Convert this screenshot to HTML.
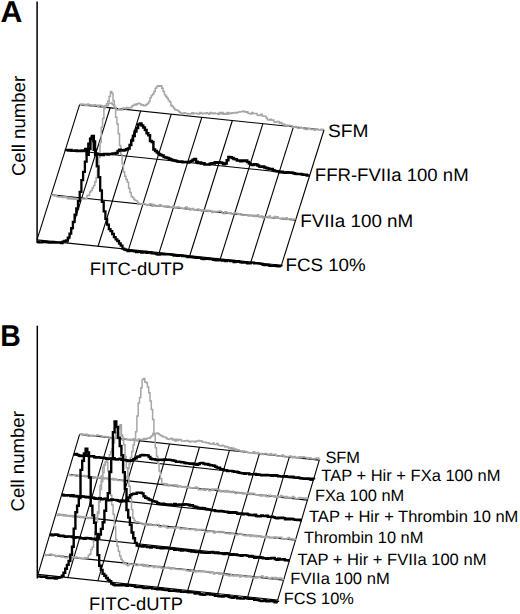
<!DOCTYPE html>
<html><head><meta charset="utf-8"><style>
html,body{margin:0;padding:0;background:#fff;}
body{width:520px;height:614px;overflow:hidden;font-family:"Liberation Sans",sans-serif;}
svg{display:block;}
</style></head><body>
<svg width="520" height="614" viewBox="0 0 520 614">
<rect width="520" height="614" fill="#fff"/>
<g stroke="#000" stroke-width="1.1" fill="none"><line x1="79.60" y1="104.60" x2="37.00" y2="239.90"/><line x1="110.15" y1="107.77" x2="67.55" y2="243.08"/><line x1="140.70" y1="110.95" x2="98.10" y2="246.25"/><line x1="171.25" y1="114.12" x2="128.65" y2="249.43"/><line x1="201.80" y1="117.30" x2="159.20" y2="252.60"/><line x1="232.35" y1="120.47" x2="189.75" y2="255.78"/><line x1="262.90" y1="123.65" x2="220.30" y2="258.95"/><line x1="293.45" y1="126.83" x2="250.85" y2="262.12"/><line x1="324.00" y1="130.00" x2="281.40" y2="265.30"/><line x1="79.60" y1="104.60" x2="324.00" y2="130.00"/><line x1="65.40" y1="149.70" x2="309.80" y2="175.10"/><line x1="51.20" y1="194.80" x2="295.60" y2="220.20"/><line x1="37.00" y1="239.90" x2="281.40" y2="265.30"/></g><g stroke="#000" stroke-width="1.1" fill="none"><line x1="79.60" y1="434.40" x2="37.95" y2="574.40"/><line x1="109.56" y1="437.61" x2="67.91" y2="577.61"/><line x1="139.53" y1="440.82" x2="97.88" y2="580.83"/><line x1="169.49" y1="444.04" x2="127.84" y2="584.04"/><line x1="199.45" y1="447.25" x2="157.80" y2="587.25"/><line x1="229.41" y1="450.46" x2="187.76" y2="590.46"/><line x1="259.38" y1="453.68" x2="217.73" y2="593.67"/><line x1="289.34" y1="456.89" x2="247.69" y2="596.89"/><line x1="319.30" y1="460.10" x2="277.65" y2="600.10"/><line x1="79.60" y1="434.40" x2="319.30" y2="460.10"/><line x1="73.65" y1="454.40" x2="313.35" y2="480.10"/><line x1="67.70" y1="474.40" x2="307.40" y2="500.10"/><line x1="61.75" y1="494.40" x2="301.45" y2="520.10"/><line x1="55.80" y1="514.40" x2="295.50" y2="540.10"/><line x1="49.85" y1="534.40" x2="289.55" y2="560.10"/><line x1="43.90" y1="554.40" x2="283.60" y2="580.10"/><line x1="37.95" y1="574.40" x2="277.65" y2="600.10"/></g><line x1="37.1" y1="1.6" x2="37.1" y2="243" stroke="#000" stroke-width="1.5"/><line x1="37.3" y1="325.7" x2="37.3" y2="578.5" stroke="#000" stroke-width="1.5"/><g font-family="Liberation Sans, sans-serif" fill="#000" style="text-rendering:geometricPrecision"><text x="0.5" y="22.2" font-size="30.3" font-weight="bold">A</text><text transform="translate(0.2,346.4) scale(0.94,1)" font-size="30.3" font-weight="bold">B</text><text transform="translate(25.35,176.1) rotate(-90)" font-size="18.6">Cell number</text><text transform="translate(24.3,511.4) rotate(-90)" font-size="18.6">Cell number</text><text transform="translate(89.8,275.4) scale(1.025,1)" font-size="18">FITC-dUTP</text><text transform="translate(89.1,610) scale(1.02,1)" font-size="18">FITC-dUTP</text><text transform="translate(327.9,136.7) scale(1.065,1)" font-size="18">SFM</text><text transform="translate(314.8,181.1) scale(1.032,1)" font-size="18">FFR-FVIIa 100 nM</text><text transform="translate(300.3,227.1) scale(1.045,1)" font-size="18">FVIIa 100 nM</text><text transform="translate(285.5,271.1) scale(1.04,1)" font-size="18">FCS 10%</text><text transform="translate(325.4,463) scale(1.0,1)" font-size="16.4">SFM</text><text transform="translate(321.3,481.2) scale(1.007,1)" font-size="16.4">TAP + Hir + FXa 100 nM</text><text transform="translate(314.9,500.6) scale(1.0,1)" font-size="16.4">FXa 100 nM</text><text transform="translate(309,521.6) scale(1.008,1)" font-size="16.4">TAP + Hir + Thrombin 10 nM</text><text transform="translate(304,543.2) scale(1.0,1)" font-size="16.4">Thrombin 10 nM</text><text transform="translate(297.5,564.8) scale(1.01,1)" font-size="16.4">TAP + Hir + FVIIa 100 nM</text><text transform="translate(290.3,584.4) scale(1.01,1)" font-size="16.4">FVIIa 100 nM</text><text transform="translate(283.7,604.4) scale(1.0,1)" font-size="16.4">FCS 10%</text></g><path d="M79.6,104.2 H80.9 V104.0 H82.2 V104.3 H83.5 V104.2 H84.8 V105.6 H86.1 V105.4 H87.4 V104.1 H88.7 V104.9 H90.0 V104.8 H91.3 V105.3 H92.6 V106.1 H93.9 V104.8 H95.3 V105.7 H96.6 V105.2 H97.9 V106.5 H99.2 V105.2 H100.5 V105.6 H101.8 V107.1 H103.1 V106.1 H104.4 V107.5 H105.7 V106.1 H107.0 V105.6 H108.3 V103.4 H109.6 V103.3 H110.9 V103.1 H112.2 V104.5 H113.5 V105.2 H114.8 V107.5 H116.1 V109.8 H117.4 V110.1 H118.7 V108.8 H120.0 V110.1 H121.3 V110.0 H122.6 V108.3 H123.9 V108.1 H125.3 V108.8 H126.6 V107.5 H127.9 V107.9 H129.2 V107.8 H130.5 V107.5 H131.8 V105.9 H133.1 V105.2 H134.4 V104.3 H135.7 V105.0 H137.0 V103.8 H138.3 V103.3 H139.6 V103.8 H140.9 V105.1 H142.2 V104.8 H143.5 V105.8 H144.8 V105.4 H146.1 V104.5 H147.4 V103.4 H148.7 V101.5 H150.0 V97.7 H151.3 V95.6 H152.6 V94.0 H153.9 V91.5 H155.2 V88.2 H156.6 V86.5 H157.9 V85.8 H159.2 V86.2 H160.5 V85.8 H161.8 V88.3 H163.1 V91.4 H164.4 V94.7 H165.7 V96.5 H167.0 V98.3 H168.3 V100.6 H169.6 V102.0 H170.9 V105.4 H172.2 V106.5 H173.5 V108.2 H174.8 V109.8 H176.1 V110.0 H177.4 V110.6 H178.7 V111.7 H180.0 V112.8 H181.3 V114.5 H182.6 V113.4 H183.9 V112.7 H185.2 V113.6 H186.6 V113.5 H187.9 V114.1 H189.2 V114.1 H190.5 V113.7 H191.8 V112.8 H193.1 V113.8 H194.4 V113.2 H195.7 V113.2 H197.0 V113.8 H198.3 V113.9 H199.6 V112.4 H200.9 V113.3 H202.2 V113.8 H203.5 V113.2 H204.8 V113.5 H206.1 V112.8 H207.4 V113.5 H208.7 V114.2 H210.0 V112.4 H211.3 V113.0 H212.6 V113.8 H213.9 V113.0 H215.2 V113.5 H216.6 V113.4 H217.9 V114.4 H219.2 V112.4 H220.5 V113.8 H221.8 V112.5 H223.1 V114.2 H224.4 V113.5 H225.7 V114.3 H227.0 V112.6 H228.3 V113.9 H229.6 V112.9 H230.9 V113.5 H232.2 V112.7 H233.5 V113.0 H234.8 V112.5 H236.1 V113.1 H237.4 V112.2 H238.7 V112.0 H240.0 V111.8 H241.3 V111.8 H242.6 V111.0 H243.9 V111.5 H245.2 V112.3 H246.6 V111.7 H247.9 V113.2 H249.2 V113.5 H250.5 V113.9 H251.8 V112.6 H253.1 V113.4 H254.4 V113.4 H255.7 V113.4 H257.0 V114.9 H258.3 V115.5 H259.6 V114.9 H260.9 V114.3 H262.2 V116.0 H263.5 V116.3 H264.8 V116.2 H266.1 V118.0 H267.4 V119.7 H268.7 V120.0 H270.0 V119.2 H271.3 V120.3 H272.6 V120.0 H273.9 V122.0 H275.2 V122.3 H276.6 V121.4 H277.9 V121.5 H279.2 V123.3 H280.5 V122.6 H281.8 V124.1 H283.1 V124.0 H284.4 V125.6 H285.7 V125.1 H287.0 V126.3 H288.3 V125.3 H289.6 V125.8 H290.9 V125.7 H292.2 V127.2 H293.5 V127.0 H294.8 V126.6 H296.1 V126.9 H297.4 V128.3 H298.7 V128.3 H300.0 V127.3 H301.3 V127.8 H302.6 V128.1 H303.9 V128.9 H305.2 V129.3 H306.5 V129.4 H307.9 V128.2 H309.2 V128.5 H310.5 V129.6 H311.8 V129.2 H313.1 V129.6 H314.4 V130.2 H315.7 V129.1 H317.0 V129.2 H318.3 V130.1 H319.6 V129.7 H320.9 V129.3 H322.2 V129.5 H323.5 V130.0" fill="none" stroke="#a6a6a6" stroke-width="1.5" stroke-linejoin="miter" stroke-miterlimit="2" /><path d="M50.6,195.2 H51.9 V195.6 H53.2 V195.4 H54.5 V196.0 H55.8 V195.6 H57.1 V196.8 H58.4 V196.9 H59.7 V196.8 H61.0 V196.9 H62.3 V197.5 H63.6 V196.8 H64.9 V197.5 H66.2 V197.0 H67.5 V198.7 H68.8 V197.5 H70.1 V198.9 H71.4 V198.7 H72.7 V199.1 H74.0 V199.2 H75.3 V198.5 H76.6 V199.5 H77.9 V198.7 H79.2 V199.7 H80.5 V199.0 H81.8 V199.1 H83.1 V199.0 H84.4 V198.9 H85.7 V198.8 H87.0 V195.4 H88.3 V195.2 H89.6 V192.1 H90.9 V190.5 H92.2 V187.9 H93.5 V185.4 H94.8 V181.7 H96.1 V177.8 H97.4 V169.2 H98.7 V157.2 H100.0 V142.4 H101.3 V127.3 H102.6 V118.6 H103.9 V108.5 H105.2 V105.5 H106.5 V103.7 H107.8 V101.2 H109.1 V96.5 H110.4 V91.6 H111.7 V93.2 H113.0 V100.7 H114.3 V107.7 H115.6 V117.2 H116.9 V123.9 H118.2 V133.7 H119.5 V145.6 H120.8 V154.4 H122.1 V163.8 H123.4 V172.1 H124.7 V176.3 H126.0 V179.6 H127.3 V182.2 H128.6 V188.3 H129.9 V192.5 H131.2 V196.5 H132.5 V197.5 H133.8 V199.6 H135.1 V200.4 H136.4 V201.0 H137.7 V203.0 H139.0 V203.9 H140.3 V203.8 H141.6 V204.2 H142.9 V203.5 H144.2 V203.9 H145.5 V204.4 H146.8 V204.8 H148.1 V205.2 H149.4 V203.8 H150.7 V204.2 H152.0 V206.2 H153.3 V204.5 H154.6 V206.1 H155.9 V206.2 H157.2 V205.5 H158.5 V205.9 H159.8 V204.8 H161.1 V206.3 H162.4 V206.2 H163.7 V206.7 H165.0 V205.9 H166.3 V206.5 H167.6 V206.0 H168.9 V207.0 H170.2 V207.5 H171.5 V207.5 H172.8 V206.2 H174.1 V207.3 H175.4 V208.0 H176.7 V207.0 H178.0 V207.1 H179.3 V207.8 H180.6 V208.1 H181.9 V208.6 H183.2 V208.5 H184.5 V207.8 H185.8 V207.1 H187.1 V208.9 H188.4 V208.2 H189.7 V209.9 H191.0 V209.3 H192.3 V208.5 H193.6 V209.8 H194.9 V209.9 H196.2 V209.4 H197.5 V209.0 H198.8 V210.4 H200.1 V209.8 H201.4 V211.2 H202.7 V210.0 H204.0 V210.4 H205.3 V210.2 H206.6 V210.2 H207.9 V211.5 H209.2 V210.5 H210.5 V211.0 H211.8 V212.6 H213.1 V211.2 H214.4 V212.1 H215.7 V211.6 H217.0 V211.8 H218.3 V211.2 H219.6 V211.0 H220.9 V211.8 H222.2 V213.3 H223.5 V213.7 H224.8 V211.8 H226.1 V212.3 H227.4 V213.0 H228.7 V213.4 H230.0 V212.8 H231.3 V214.0 H232.6 V214.1 H233.9 V212.8 H235.2 V213.1 H236.5 V213.2 H237.8 V214.6 H239.1 V214.1 H240.4 V213.8 H241.7 V215.3 H243.0 V215.0 H244.3 V215.1 H245.6 V215.3 H246.9 V215.0 H248.2 V216.1 H249.5 V215.3 H250.8 V214.9 H252.1 V216.0 H253.4 V215.2 H254.7 V216.6 H256.0 V215.9 H257.3 V214.8 H258.6 V216.8 H259.9 V216.9 H261.2 V216.0 H262.5 V217.9 H263.8 V217.1 H265.1 V217.0 H266.4 V216.8 H267.7 V217.7 H269.0 V216.1 H270.3 V217.5 H271.6 V217.6 H272.9 V217.5 H274.2 V216.4 H275.5 V218.2 H276.8 V216.8 H278.1 V218.2 H279.4 V218.5 H280.7 V218.3 H282.0 V217.9 H283.3 V218.5 H284.6 V219.0 H285.9 V217.8 H287.2 V219.5 H288.5 V219.1 H289.8 V218.8 H291.1 V220.3 H292.4 V219.1 H293.7 V219.3 H295.0 V219.8" fill="none" stroke="#a6a6a6" stroke-width="1.5" stroke-linejoin="miter" stroke-miterlimit="2" /><path d="M64.8,150.0 H66.5 V150.0 H68.2 V150.4 H69.9 V150.0 H71.6 V150.7 H73.3 V150.7 H75.0 V150.5 H76.7 V151.1 H78.4 V150.7 H80.1 V150.9 H81.8 V150.5 H83.5 V150.5 H85.3 V149.1 H87.0 V154.7 H88.7 V149.1 H90.4 V138.5 H92.1 V136.1 H93.8 V149.7 H95.5 V153.7 H97.2 V154.6 H98.9 V154.6 H100.6 V155.0 H102.3 V155.0 H104.0 V154.0 H105.7 V153.9 H107.4 V154.5 H109.1 V154.1 H110.8 V153.9 H112.5 V153.5 H114.2 V153.5 H115.9 V153.0 H117.6 V150.9 H119.3 V149.8 H121.0 V150.3 H122.7 V150.5 H124.4 V149.9 H126.2 V149.2 H127.9 V148.4 H129.6 V145.0 H131.3 V140.6 H133.0 V136.1 H134.7 V131.6 H136.4 V127.9 H138.1 V124.4 H139.8 V123.5 H141.5 V125.6 H143.2 V127.5 H144.9 V129.9 H146.6 V133.2 H148.3 V135.3 H150.0 V140.9 H151.7 V142.0 H153.4 V149.4 H155.1 V150.9 H156.8 V152.6 H158.5 V154.0 H160.2 V155.1 H161.9 V155.6 H163.6 V156.9 H165.3 V157.4 H167.1 V158.0 H168.8 V158.8 H170.5 V159.5 H172.2 V160.3 H173.9 V160.5 H175.6 V161.0 H177.3 V161.4 H179.0 V161.7 H180.7 V161.6 H182.4 V162.3 H184.1 V161.9 H185.8 V162.0 H187.5 V162.6 H189.2 V161.8 H190.9 V160.9 H192.6 V159.7 H194.3 V159.1 H196.0 V161.8 H197.7 V162.9 H199.4 V162.6 H201.1 V163.4 H202.8 V163.3 H204.5 V164.4 H206.3 V164.5 H208.0 V164.6 H209.7 V163.8 H211.4 V163.2 H213.1 V163.5 H214.8 V162.2 H216.5 V162.7 H218.2 V162.2 H219.9 V162.4 H221.6 V162.9 H223.3 V164.2 H225.0 V163.5 H226.7 V160.3 H228.4 V156.9 H230.1 V157.3 H231.8 V157.9 H233.5 V159.0 H235.2 V159.2 H236.9 V160.5 H238.6 V160.4 H240.3 V161.2 H242.0 V160.6 H243.7 V160.9 H245.4 V160.4 H247.2 V162.1 H248.9 V163.5 H250.6 V164.4 H252.3 V165.1 H254.0 V164.3 H255.7 V164.5 H257.4 V165.5 H259.1 V166.4 H260.8 V166.8 H262.5 V166.6 H264.2 V167.4 H265.9 V168.1 H267.6 V168.4 H269.3 V169.1 H271.0 V169.1 H272.7 V170.2 H274.4 V171.0 H276.1 V171.3 H277.8 V171.4 H279.5 V172.2 H281.2 V171.8 H282.9 V172.5 H284.6 V172.7 H286.4 V172.2 H288.1 V172.6 H289.8 V172.6 H291.5 V172.7 H293.2 V173.2 H294.9 V173.8 H296.6 V174.1 H298.3 V174.1 H300.0 V174.1 H301.7 V174.6 H303.4 V174.8 H305.1 V174.7 H306.8 V175.5 H308.5 V175.4" fill="none" stroke="#000" stroke-width="2.5" stroke-linejoin="miter" stroke-miterlimit="2" /><path d="M37.0,242.0 H38.7 V242.3 H40.4 V242.4 H42.1 V241.7 H43.8 V242.2 H45.5 V241.8 H47.3 V242.3 H49.0 V242.6 H50.7 V242.6 H52.4 V242.0 H54.1 V242.5 H55.8 V242.7 H57.5 V242.6 H59.2 V242.5 H60.9 V243.0 H62.6 V241.6 H64.3 V241.0 H66.1 V240.3 H67.8 V237.6 H69.5 V233.7 H71.2 V228.1 H72.9 V221.9 H74.6 V214.6 H76.3 V208.5 H78.0 V201.2 H79.7 V191.9 H81.4 V180.1 H83.1 V171.9 H84.9 V161.6 H86.6 V150.8 H88.3 V143.6 H90.0 V139.2 H91.7 V136.7 H93.4 V141.4 H95.1 V155.2 H96.8 V166.3 H98.5 V177.2 H100.2 V190.5 H101.9 V201.9 H103.7 V211.4 H105.4 V218.8 H107.1 V224.6 H108.8 V229.1 H110.5 V231.1 H112.2 V234.0 H113.9 V237.2 H115.6 V239.4 H117.3 V241.0 H119.0 V243.5 H120.7 V245.6 H122.5 V248.6 H124.2 V249.6 H125.9 V250.2 H127.6 V251.1 H129.3 V250.8 H131.0 V250.9 H132.7 V251.2 H134.4 V251.3 H136.1 V252.0 H137.8 V251.8 H139.5 V251.8 H141.3 V252.6 H143.0 V252.4 H144.7 V251.9 H146.4 V252.8 H148.1 V252.7 H149.8 V252.4 H151.5 V253.4 H153.2 V253.4 H154.9 V253.6 H156.6 V254.3 H158.3 V254.5 H160.1 V254.0 H161.8 V254.2 H163.5 V254.4 H165.2 V254.4 H166.9 V254.3 H168.6 V254.4 H170.3 V254.6 H172.0 V254.8 H173.7 V255.5 H175.4 V255.2 H177.1 V255.8 H178.9 V255.5 H180.6 V255.3 H182.3 V256.1 H184.0 V256.0 H185.7 V256.3 H187.4 V257.2 H189.1 V257.0 H190.8 V256.9 H192.5 V257.3 H194.2 V257.6 H196.0 V257.9 H197.7 V257.9 H199.4 V257.9 H201.1 V258.7 H202.8 V259.0 H204.5 V258.3 H206.2 V258.9 H207.9 V258.6 H209.6 V259.2 H211.3 V259.2 H213.0 V259.8 H214.8 V260.0 H216.5 V260.3 H218.2 V259.9 H219.9 V260.2 H221.6 V260.7 H223.3 V260.2 H225.0 V261.1 H226.7 V260.6 H228.4 V260.7 H230.1 V261.1 H231.8 V261.0 H233.6 V262.0 H235.3 V261.5 H237.0 V261.2 H238.7 V261.9 H240.4 V262.4 H242.1 V262.6 H243.8 V262.7 H245.5 V262.6 H247.2 V263.3 H248.9 V263.3 H250.6 V262.6 H252.4 V262.7 H254.1 V263.3 H255.8 V263.2 H257.5 V263.3 H259.2 V263.7 H260.9 V263.8 H262.6 V264.8 H264.3 V265.0 H266.0 V264.9 H267.7 V265.0 H269.4 V265.9 H271.2 V265.8 H272.9 V265.8 H274.6 V265.2 H276.3 V266.2 H278.0 V266.4 H279.7 V265.8 H281.4 V266.6" fill="none" stroke="#000" stroke-width="2.3" stroke-linejoin="miter" stroke-miterlimit="2" /><path d="M79.6,434.2 H80.9 V433.7 H82.2 V434.5 H83.5 V434.2 H84.8 V434.8 H86.1 V434.3 H87.4 V435.9 H88.7 V436.2 H90.1 V435.2 H91.4 V435.2 H92.7 V435.6 H94.0 V436.1 H95.3 V435.7 H96.6 V435.1 H97.9 V435.4 H99.2 V435.7 H100.5 V435.7 H101.8 V436.4 H103.1 V436.5 H104.4 V436.4 H105.7 V437.0 H107.0 V436.9 H108.3 V436.9 H109.7 V438.3 H111.0 V438.4 H112.3 V437.4 H113.6 V438.0 H114.9 V437.5 H116.2 V438.5 H117.5 V438.6 H118.8 V428.1 H120.1 V424.8 H121.4 V436.3 H122.7 V438.2 H124.0 V439.0 H125.3 V438.8 H126.6 V439.8 H127.9 V439.4 H129.2 V439.3 H130.6 V439.6 H131.9 V440.2 H133.2 V438.7 H134.5 V440.0 H135.8 V440.1 H137.1 V440.5 H138.4 V438.9 H139.7 V439.6 H141.0 V439.5 H142.3 V439.7 H143.6 V438.5 H144.9 V439.3 H146.2 V438.7 H147.5 V437.9 H148.8 V438.2 H150.2 V437.0 H151.5 V435.7 H152.8 V433.5 H154.1 V433.6 H155.4 V433.4 H156.7 V433.0 H158.0 V433.7 H159.3 V434.7 H160.6 V435.5 H161.9 V436.3 H163.2 V437.0 H164.5 V436.9 H165.8 V438.1 H167.1 V438.9 H168.4 V439.2 H169.8 V438.8 H171.1 V438.2 H172.4 V440.1 H173.7 V439.3 H175.0 V440.9 H176.3 V439.2 H177.6 V440.4 H178.9 V439.5 H180.2 V439.8 H181.5 V440.9 H182.8 V440.9 H184.1 V441.3 H185.4 V440.8 H186.7 V440.4 H188.0 V441.3 H189.3 V441.9 H190.7 V441.3 H192.0 V441.5 H193.3 V441.3 H194.6 V441.9 H195.9 V441.2 H197.2 V440.7 H198.5 V440.4 H199.8 V441.2 H201.1 V440.9 H202.4 V442.3 H203.7 V442.3 H205.0 V442.2 H206.3 V443.0 H207.6 V442.7 H208.9 V443.6 H210.3 V444.0 H211.6 V444.1 H212.9 V442.9 H214.2 V444.4 H215.5 V444.4 H216.8 V443.5 H218.1 V445.3 H219.4 V445.8 H220.7 V445.9 H222.0 V445.3 H223.3 V445.7 H224.6 V447.1 H225.9 V446.4 H227.2 V446.9 H228.5 V448.4 H229.9 V447.8 H231.2 V449.5 H232.5 V448.1 H233.8 V449.2 H235.1 V448.9 H236.4 V450.6 H237.7 V449.7 H239.0 V450.8 H240.3 V451.1 H241.6 V451.6 H242.9 V450.7 H244.2 V451.7 H245.5 V451.5 H246.8 V452.2 H248.1 V452.9 H249.5 V452.8 H250.8 V452.8 H252.1 V453.1 H253.4 V451.8 H254.7 V453.6 H256.0 V453.5 H257.3 V452.6 H258.6 V453.6 H259.9 V453.6 H261.2 V454.3 H262.5 V454.6 H263.8 V453.7 H265.1 V453.6 H266.4 V454.0 H267.7 V455.0 H269.0 V454.3 H270.4 V453.5 H271.7 V454.9 H273.0 V454.8 H274.3 V454.2 H275.6 V455.3 H276.9 V456.1 H278.2 V456.0 H279.5 V456.2 H280.8 V455.8 H282.1 V455.1 H283.4 V456.5 H284.7 V456.9 H286.0 V457.0 H287.3 V456.5 H288.6 V456.6 H290.0 V456.0 H291.3 V457.5 H292.6 V457.7 H293.9 V456.6 H295.2 V457.2 H296.5 V457.5 H297.8 V457.9 H299.1 V456.7 H300.4 V457.7 H301.7 V457.0 H303.0 V456.8 H304.3 V457.4 H305.6 V457.6 H306.9 V458.7 H308.2 V457.9 H309.6 V457.7 H310.9 V458.7 H312.2 V458.7 H313.5 V459.1 H314.8 V458.5 H316.1 V458.1 H317.4 V458.0 H318.7 V459.3 H320.0 V459.2" fill="none" stroke="#a6a6a6" stroke-width="1.5" stroke-linejoin="miter" stroke-miterlimit="2" /><path d="M67.7,474.4 H69.0 V474.8 H70.3 V475.6 H71.6 V475.4 H72.9 V475.6 H74.2 V474.9 H75.5 V476.3 H76.8 V476.3 H78.1 V475.3 H79.5 V475.7 H80.8 V475.4 H82.1 V475.9 H83.4 V475.4 H84.7 V476.8 H86.0 V475.7 H87.3 V476.0 H88.6 V476.2 H89.9 V477.2 H91.2 V477.3 H92.5 V478.2 H93.8 V476.8 H95.1 V478.0 H96.4 V477.8 H97.7 V477.3 H99.0 V477.7 H100.4 V477.4 H101.7 V478.0 H103.0 V479.1 H104.3 V478.4 H105.6 V478.1 H106.9 V478.6 H108.2 V479.4 H109.5 V478.8 H110.8 V479.5 H112.1 V478.4 H113.4 V479.9 H114.7 V479.0 H116.0 V479.3 H117.3 V480.1 H118.6 V480.4 H119.9 V480.6 H121.2 V480.0 H122.6 V480.9 H123.9 V480.9 H125.2 V479.3 H126.5 V476.5 H127.8 V468.6 H129.1 V464.0 H130.4 V457.6 H131.7 V451.6 H133.0 V445.1 H134.3 V440.8 H135.6 V431.7 H136.9 V415.9 H138.2 V402.9 H139.5 V397.4 H140.8 V388.1 H142.1 V379.6 H143.5 V378.4 H144.8 V382.1 H146.1 V382.8 H147.4 V387.0 H148.7 V392.7 H150.0 V401.1 H151.3 V409.4 H152.6 V419.4 H153.9 V434.8 H155.2 V447.7 H156.5 V456.3 H157.8 V463.6 H159.1 V471.1 H160.4 V478.7 H161.7 V483.4 H163.0 V483.5 H164.3 V485.4 H165.7 V483.8 H167.0 V484.6 H168.3 V486.1 H169.6 V484.9 H170.9 V485.1 H172.2 V485.1 H173.5 V484.7 H174.8 V485.7 H176.1 V485.1 H177.4 V486.9 H178.7 V486.5 H180.0 V485.9 H181.3 V486.8 H182.6 V487.2 H183.9 V486.5 H185.2 V487.5 H186.6 V487.5 H187.9 V487.1 H189.2 V488.1 H190.5 V487.8 H191.8 V487.7 H193.1 V487.7 H194.4 V488.0 H195.7 V486.9 H197.0 V487.9 H198.3 V489.8 H199.6 V489.3 H200.9 V489.7 H202.2 V488.9 H203.5 V490.0 H204.8 V490.3 H206.1 V488.9 H207.4 V489.0 H208.8 V490.8 H210.1 V490.4 H211.4 V489.1 H212.7 V489.9 H214.0 V488.9 H215.3 V489.1 H216.6 V489.7 H217.9 V489.5 H219.2 V490.5 H220.5 V491.8 H221.8 V490.7 H223.1 V490.7 H224.4 V492.0 H225.7 V490.4 H227.0 V492.0 H228.3 V491.1 H229.6 V491.9 H231.0 V492.6 H232.3 V491.2 H233.6 V492.0 H234.9 V493.5 H236.2 V493.2 H237.5 V492.3 H238.8 V492.9 H240.1 V493.3 H241.4 V492.9 H242.7 V493.9 H244.0 V493.3 H245.3 V493.8 H246.6 V493.4 H247.9 V493.2 H249.2 V492.9 H250.5 V494.4 H251.9 V493.2 H253.2 V493.4 H254.5 V494.4 H255.8 V494.8 H257.1 V494.8 H258.4 V495.1 H259.7 V495.7 H261.0 V496.1 H262.3 V495.0 H263.6 V495.8 H264.9 V494.9 H266.2 V496.4 H267.5 V496.7 H268.8 V495.3 H270.1 V495.4 H271.4 V496.0 H272.7 V496.4 H274.1 V495.7 H275.4 V497.2 H276.7 V496.5 H278.0 V497.3 H279.3 V497.0 H280.6 V495.5 H281.9 V496.6 H283.2 V496.5 H284.5 V497.4 H285.8 V496.6 H287.1 V497.9 H288.4 V497.3 H289.7 V498.1 H291.0 V497.7 H292.3 V496.5 H293.6 V497.4 H295.0 V498.7 H296.3 V498.5 H297.6 V498.7 H298.9 V497.5 H300.2 V497.8 H301.5 V497.7 H302.8 V498.3 H304.1 V498.5 H305.4 V498.0 H306.7 V498.6 H308.0 V499.2" fill="none" stroke="#a6a6a6" stroke-width="1.5" stroke-linejoin="miter" stroke-miterlimit="2" /><path d="M55.8,514.4 H57.1 V515.5 H58.4 V514.1 H59.7 V515.3 H61.0 V514.6 H62.3 V515.4 H63.6 V516.0 H64.9 V514.7 H66.2 V516.1 H67.5 V515.5 H68.9 V515.4 H70.2 V516.6 H71.5 V515.5 H72.8 V517.0 H74.1 V516.8 H75.4 V516.0 H76.7 V516.0 H78.0 V516.4 H79.3 V516.2 H80.6 V517.5 H81.9 V516.7 H83.2 V518.1 H84.5 V517.3 H85.8 V517.0 H87.1 V518.0 H88.4 V518.5 H89.7 V517.6 H91.0 V517.9 H92.4 V517.6 H93.7 V518.8 H95.0 V518.3 H96.3 V517.8 H97.6 V513.7 H98.9 V502.2 H100.2 V489.6 H101.5 V481.5 H102.8 V472.6 H104.1 V465.2 H105.4 V462.4 H106.7 V460.2 H108.0 V458.9 H109.3 V454.7 H110.6 V451.8 H111.9 V448.8 H113.2 V443.0 H114.5 V437.6 H115.9 V432.3 H117.2 V428.4 H118.5 V425.8 H119.8 V427.7 H121.1 V434.7 H122.4 V440.3 H123.7 V444.8 H125.0 V456.5 H126.3 V467.8 H127.6 V477.1 H128.9 V486.3 H130.2 V495.5 H131.5 V509.6 H132.8 V517.9 H134.1 V520.5 H135.4 V522.0 H136.7 V521.7 H138.0 V522.3 H139.4 V523.1 H140.7 V523.0 H142.0 V524.0 H143.3 V524.7 H144.6 V523.5 H145.9 V524.9 H147.2 V525.1 H148.5 V525.3 H149.8 V523.9 H151.1 V525.2 H152.4 V525.3 H153.7 V525.0 H155.0 V525.6 H156.3 V524.5 H157.6 V524.5 H158.9 V526.7 H160.2 V527.1 H161.5 V525.9 H162.9 V525.2 H164.2 V526.8 H165.5 V526.0 H166.8 V527.9 H168.1 V527.8 H169.4 V527.4 H170.7 V527.4 H172.0 V528.0 H173.3 V527.6 H174.6 V528.2 H175.9 V527.7 H177.2 V527.2 H178.5 V527.2 H179.8 V528.8 H181.1 V529.1 H182.4 V528.3 H183.7 V528.6 H185.0 V529.3 H186.3 V528.7 H187.7 V529.1 H189.0 V529.6 H190.3 V529.6 H191.6 V528.9 H192.9 V529.5 H194.2 V529.1 H195.5 V530.4 H196.8 V529.6 H198.1 V529.6 H199.4 V530.0 H200.7 V529.6 H202.0 V529.5 H203.3 V529.7 H204.6 V531.7 H205.9 V532.0 H207.2 V531.0 H208.5 V531.8 H209.8 V531.3 H211.2 V530.8 H212.5 V532.1 H213.8 V532.9 H215.1 V531.7 H216.4 V532.3 H217.7 V531.6 H219.0 V532.4 H220.3 V532.6 H221.6 V531.4 H222.9 V532.1 H224.2 V533.0 H225.5 V533.4 H226.8 V533.2 H228.1 V533.5 H229.4 V534.0 H230.7 V533.4 H232.0 V532.9 H233.3 V534.1 H234.7 V534.7 H236.0 V534.8 H237.3 V534.7 H238.6 V534.1 H239.9 V533.5 H241.2 V534.6 H242.5 V535.0 H243.8 V535.6 H245.1 V535.8 H246.4 V534.7 H247.7 V535.7 H249.0 V535.0 H250.3 V536.4 H251.6 V535.1 H252.9 V535.5 H254.2 V536.6 H255.5 V535.4 H256.8 V536.7 H258.2 V535.9 H259.5 V535.7 H260.8 V537.2 H262.1 V536.7 H263.4 V536.5 H264.7 V537.5 H266.0 V536.3 H267.3 V537.2 H268.6 V537.7 H269.9 V537.9 H271.2 V537.6 H272.5 V537.3 H273.8 V537.0 H275.1 V537.1 H276.4 V538.3 H277.7 V537.2 H279.0 V537.5 H280.3 V537.2 H281.7 V538.4 H283.0 V538.8 H284.3 V538.9 H285.6 V539.3 H286.9 V538.5 H288.2 V537.4 H289.5 V538.9 H290.8 V538.7 H292.1 V538.9 H293.4 V539.8 H294.7 V539.3 H296.0 V539.4" fill="none" stroke="#a6a6a6" stroke-width="1.5" stroke-linejoin="miter" stroke-miterlimit="2" /><path d="M43.9,554.4 H45.2 V555.6 H46.5 V554.8 H47.8 V554.7 H49.1 V554.6 H50.4 V554.1 H51.7 V555.3 H53.0 V554.9 H54.3 V555.3 H55.6 V556.5 H56.9 V555.8 H58.3 V555.5 H59.6 V555.7 H60.9 V557.0 H62.2 V555.8 H63.5 V557.3 H64.8 V557.4 H66.1 V557.8 H67.4 V557.2 H68.7 V556.1 H70.0 V557.0 H71.3 V558.0 H72.6 V557.6 H73.9 V557.4 H75.2 V556.9 H76.5 V557.6 H77.8 V557.5 H79.1 V558.3 H80.4 V558.7 H81.7 V558.6 H83.0 V559.1 H84.4 V557.7 H85.7 V558.3 H87.0 V557.8 H88.3 V555.2 H89.6 V553.9 H90.9 V549.4 H92.2 V547.3 H93.5 V541.1 H94.8 V531.9 H96.1 V522.2 H97.4 V512.0 H98.7 V497.2 H100.0 V485.4 H101.3 V475.7 H102.6 V467.2 H103.9 V464.5 H105.2 V461.6 H106.5 V462.3 H107.8 V470.7 H109.1 V481.1 H110.5 V495.3 H111.8 V505.1 H113.1 V514.3 H114.4 V526.5 H115.7 V539.5 H117.0 V546.1 H118.3 V551.2 H119.6 V556.1 H120.9 V559.2 H122.2 V561.1 H123.5 V563.8 H124.8 V563.7 H126.1 V564.7 H127.4 V565.7 H128.7 V563.7 H130.0 V564.5 H131.3 V564.3 H132.6 V564.0 H133.9 V564.5 H135.2 V565.2 H136.6 V565.6 H137.9 V564.6 H139.2 V564.6 H140.5 V564.5 H141.8 V564.3 H143.1 V566.3 H144.4 V565.4 H145.7 V566.6 H147.0 V565.3 H148.3 V566.8 H149.6 V566.6 H150.9 V566.5 H152.2 V565.8 H153.5 V567.6 H154.8 V566.3 H156.1 V566.5 H157.4 V567.5 H158.7 V566.3 H160.0 V567.1 H161.3 V568.2 H162.7 V568.4 H164.0 V568.0 H165.3 V567.7 H166.6 V567.8 H167.9 V567.2 H169.2 V567.7 H170.5 V569.0 H171.8 V568.1 H173.1 V568.6 H174.4 V569.0 H175.7 V569.1 H177.0 V569.1 H178.3 V569.4 H179.6 V569.4 H180.9 V569.6 H182.2 V569.7 H183.5 V569.4 H184.8 V569.6 H186.1 V570.7 H187.4 V570.7 H188.7 V571.3 H190.1 V571.2 H191.4 V570.3 H192.7 V571.3 H194.0 V570.9 H195.3 V572.1 H196.6 V570.7 H197.9 V571.6 H199.2 V571.7 H200.5 V570.7 H201.8 V571.8 H203.1 V570.9 H204.4 V571.5 H205.7 V571.8 H207.0 V571.5 H208.3 V571.7 H209.6 V572.9 H210.9 V572.5 H212.2 V572.0 H213.5 V574.0 H214.8 V572.8 H216.2 V572.6 H217.5 V573.0 H218.8 V574.3 H220.1 V572.9 H221.4 V574.1 H222.7 V573.9 H224.0 V574.5 H225.3 V575.1 H226.6 V574.9 H227.9 V575.6 H229.2 V575.9 H230.5 V574.7 H231.8 V575.4 H233.1 V576.0 H234.4 V574.7 H235.7 V576.1 H237.0 V575.2 H238.3 V575.8 H239.6 V576.9 H240.9 V575.3 H242.3 V576.1 H243.6 V576.6 H244.9 V576.8 H246.2 V577.1 H247.5 V576.6 H248.8 V576.7 H250.1 V576.0 H251.4 V577.4 H252.7 V577.4 H254.0 V577.9 H255.3 V577.3 H256.6 V577.9 H257.9 V576.7 H259.2 V577.3 H260.5 V576.6 H261.8 V575.9 H263.1 V577.5 H264.4 V577.6 H265.7 V576.7 H267.0 V577.6 H268.4 V578.7 H269.7 V578.3 H271.0 V577.5 H272.3 V577.6 H273.6 V579.0 H274.9 V577.4 H276.2 V578.9 H277.5 V577.9 H278.8 V578.7 H280.1 V578.0 H281.4 V578.7 H282.7 V579.4 H284.0 V579.3" fill="none" stroke="#a6a6a6" stroke-width="1.5" stroke-linejoin="miter" stroke-miterlimit="2" /><path d="M73.7,454.6 H75.4 V454.0 H77.1 V454.9 H78.8 V455.7 H80.5 V456.1 H82.2 V455.9 H83.9 V455.9 H85.6 V455.3 H87.3 V455.8 H89.0 V456.4 H90.7 V456.1 H92.4 V456.2 H94.1 V457.3 H95.8 V457.5 H97.5 V457.2 H99.2 V457.6 H100.9 V457.8 H102.6 V457.7 H104.3 V458.1 H106.0 V458.7 H107.7 V458.7 H109.4 V458.6 H111.2 V459.1 H112.9 V458.2 H114.6 V459.4 H116.3 V459.5 H118.0 V459.1 H119.7 V458.7 H121.4 V459.7 H123.1 V459.7 H124.8 V460.1 H126.5 V460.5 H128.2 V461.0 H129.9 V460.7 H131.6 V460.3 H133.3 V459.1 H135.0 V458.3 H136.7 V456.8 H138.4 V456.5 H140.1 V455.4 H141.8 V455.0 H143.5 V455.3 H145.2 V455.2 H146.9 V455.4 H148.7 V457.0 H150.4 V458.7 H152.1 V459.4 H153.8 V459.2 H155.5 V459.9 H157.2 V460.0 H158.9 V459.6 H160.6 V459.7 H162.3 V460.0 H164.0 V459.5 H165.7 V459.7 H167.4 V459.6 H169.1 V459.9 H170.8 V460.1 H172.5 V460.5 H174.2 V460.9 H175.9 V461.7 H177.6 V461.8 H179.3 V461.9 H181.0 V462.2 H182.7 V462.4 H184.5 V463.0 H186.2 V463.3 H187.9 V463.4 H189.6 V463.8 H191.3 V463.4 H193.0 V464.1 H194.7 V464.0 H196.4 V464.9 H198.1 V464.0 H199.8 V463.1 H201.5 V463.0 H203.2 V463.6 H204.9 V464.2 H206.6 V464.0 H208.3 V464.7 H210.0 V465.3 H211.7 V465.4 H213.4 V465.8 H215.1 V466.7 H216.8 V467.6 H218.5 V467.8 H220.2 V469.1 H222.0 V469.2 H223.7 V470.2 H225.4 V470.3 H227.1 V471.1 H228.8 V470.9 H230.5 V470.9 H232.2 V471.3 H233.9 V471.8 H235.6 V471.7 H237.3 V472.3 H239.0 V472.9 H240.7 V473.1 H242.4 V473.3 H244.1 V473.9 H245.8 V473.4 H247.5 V473.4 H249.2 V474.2 H250.9 V474.4 H252.6 V474.1 H254.3 V474.0 H256.0 V474.8 H257.8 V474.4 H259.5 V474.9 H261.2 V475.3 H262.9 V474.9 H264.6 V475.2 H266.3 V474.9 H268.0 V475.2 H269.7 V475.1 H271.4 V475.8 H273.1 V475.1 H274.8 V475.2 H276.5 V475.8 H278.2 V476.2 H279.9 V476.4 H281.6 V476.6 H283.3 V476.2 H285.0 V476.3 H286.7 V476.7 H288.4 V477.1 H290.1 V476.8 H291.8 V476.8 H293.5 V477.4 H295.3 V477.5 H297.0 V477.5 H298.7 V477.9 H300.4 V478.2 H302.1 V478.4 H303.8 V478.7 H305.5 V478.4 H307.2 V478.4 H308.9 V478.8 H310.6 V479.5 H312.3 V478.8 H314.0 V479.4" fill="none" stroke="#000" stroke-width="2.4" stroke-linejoin="miter" stroke-miterlimit="2" /><path d="M61.8,494.6 H63.5 V495.6 H65.2 V495.6 H66.9 V495.1 H68.6 V495.4 H70.3 V496.0 H72.0 V495.2 H73.7 V496.2 H75.4 V495.9 H77.1 V496.6 H78.8 V496.4 H80.5 V496.1 H82.2 V496.5 H83.9 V496.7 H85.6 V497.2 H87.3 V496.9 H89.0 V497.6 H90.7 V497.5 H92.4 V497.7 H94.1 V498.5 H95.8 V498.7 H97.5 V498.6 H99.2 V498.2 H100.9 V499.3 H102.6 V499.1 H104.3 V498.8 H106.1 V500.1 H107.8 V500.4 H109.5 V500.1 H111.2 V499.5 H112.9 V499.9 H114.6 V499.9 H116.3 V500.3 H118.0 V500.8 H119.7 V501.5 H121.4 V500.4 H123.1 V501.3 H124.8 V500.6 H126.5 V499.7 H128.2 V497.5 H129.9 V495.1 H131.6 V494.1 H133.3 V493.6 H135.0 V493.7 H136.7 V492.6 H138.4 V492.6 H140.1 V492.7 H141.8 V493.4 H143.5 V496.3 H145.2 V497.7 H146.9 V498.4 H148.7 V499.5 H150.4 V500.1 H152.1 V501.2 H153.8 V501.4 H155.5 V501.9 H157.2 V503.2 H158.9 V503.8 H160.6 V504.0 H162.3 V503.8 H164.0 V504.1 H165.7 V504.5 H167.4 V504.9 H169.1 V504.5 H170.8 V504.8 H172.5 V504.7 H174.2 V504.0 H175.9 V504.8 H177.6 V505.0 H179.3 V504.4 H181.0 V504.7 H182.7 V504.7 H184.4 V504.1 H186.1 V504.4 H187.8 V504.7 H189.5 V505.6 H191.3 V505.3 H193.0 V506.4 H194.7 V506.8 H196.4 V507.4 H198.1 V508.1 H199.8 V507.9 H201.5 V507.9 H203.2 V508.2 H204.9 V508.9 H206.6 V509.2 H208.3 V509.4 H210.0 V509.9 H211.7 V510.3 H213.4 V510.1 H215.1 V511.1 H216.8 V510.9 H218.5 V511.4 H220.2 V510.9 H221.9 V511.3 H223.6 V511.6 H225.3 V511.7 H227.0 V512.0 H228.7 V512.7 H230.4 V512.3 H232.1 V512.7 H233.9 V512.3 H235.6 V512.8 H237.3 V513.7 H239.0 V513.4 H240.7 V513.5 H242.4 V514.2 H244.1 V513.7 H245.8 V513.6 H247.5 V514.5 H249.2 V515.0 H250.9 V515.0 H252.6 V515.2 H254.3 V514.8 H256.0 V516.0 H257.7 V516.2 H259.4 V516.3 H261.1 V515.4 H262.8 V515.9 H264.5 V516.0 H266.2 V515.8 H267.9 V516.8 H269.6 V516.9 H271.3 V516.8 H273.0 V517.1 H274.7 V517.9 H276.4 V518.2 H278.2 V517.8 H279.9 V518.1 H281.6 V517.7 H283.3 V518.1 H285.0 V519.2 H286.7 V518.6 H288.4 V519.3 H290.1 V518.8 H291.8 V519.0 H293.5 V519.6 H295.2 V519.8 H296.9 V520.0 H298.6 V519.8 H300.3 V520.4 H302.0 V520.4" fill="none" stroke="#000" stroke-width="2.4" stroke-linejoin="miter" stroke-miterlimit="2" /><path d="M49.9,534.5 H51.6 V535.2 H53.3 V534.8 H55.0 V534.5 H56.7 V534.7 H58.4 V535.7 H60.1 V536.1 H61.8 V535.6 H63.5 V536.4 H65.2 V536.8 H66.9 V536.6 H68.6 V536.5 H70.3 V536.5 H72.0 V537.0 H73.7 V537.8 H75.4 V537.1 H77.1 V537.4 H78.8 V537.5 H80.5 V538.4 H82.2 V538.1 H83.9 V538.8 H85.6 V538.0 H87.3 V538.2 H89.0 V538.3 H90.7 V538.8 H92.4 V539.1 H94.1 V538.7 H95.8 V539.8 H97.5 V537.7 H99.2 V534.5 H100.9 V528.9 H102.7 V522.3 H104.4 V510.7 H106.1 V498.9 H107.8 V493.1 H109.5 V472.0 H111.2 V458.5 H112.9 V432.3 H114.6 V421.4 H116.3 V427.1 H118.0 V437.8 H119.7 V446.0 H121.4 V455.2 H123.1 V472.3 H124.8 V489.1 H126.5 V510.0 H128.2 V517.6 H129.9 V524.8 H131.6 V532.5 H133.3 V538.3 H135.0 V542.9 H136.7 V545.6 H138.4 V546.0 H140.1 V546.1 H141.8 V546.6 H143.5 V546.2 H145.2 V546.4 H146.9 V547.0 H148.6 V547.0 H150.3 V547.6 H152.0 V546.8 H153.7 V546.9 H155.5 V547.4 H157.2 V547.7 H158.9 V547.7 H160.6 V548.3 H162.3 V548.4 H164.0 V548.1 H165.7 V547.8 H167.4 V548.3 H169.1 V548.4 H170.8 V548.7 H172.5 V548.9 H174.2 V549.7 H175.9 V549.2 H177.6 V549.6 H179.3 V550.0 H181.0 V550.5 H182.7 V550.2 H184.4 V550.1 H186.1 V550.3 H187.8 V550.9 H189.5 V551.1 H191.2 V551.6 H192.9 V551.1 H194.6 V551.8 H196.3 V552.0 H198.0 V551.8 H199.7 V552.0 H201.4 V552.5 H203.1 V552.5 H204.8 V552.7 H206.5 V552.8 H208.3 V552.8 H210.0 V552.2 H211.7 V552.0 H213.4 V552.7 H215.1 V553.0 H216.8 V552.5 H218.5 V553.4 H220.2 V553.1 H221.9 V553.5 H223.6 V554.0 H225.3 V553.1 H227.0 V553.5 H228.7 V554.4 H230.4 V554.7 H232.1 V554.3 H233.8 V554.9 H235.5 V554.5 H237.2 V555.1 H238.9 V555.2 H240.6 V555.9 H242.3 V555.3 H244.0 V555.2 H245.7 V555.4 H247.4 V555.9 H249.1 V556.5 H250.8 V556.0 H252.5 V556.8 H254.2 V557.7 H255.9 V556.9 H257.6 V557.6 H259.4 V557.1 H261.1 V557.7 H262.8 V558.2 H264.5 V558.1 H266.2 V558.7 H267.9 V558.4 H269.6 V558.5 H271.3 V558.0 H273.0 V558.0 H274.7 V559.1 H276.4 V559.7 H278.1 V558.7 H279.8 V559.5 H281.5 V559.6 H283.2 V559.1 H284.9 V560.2 H286.6 V560.3 H288.3 V560.6 H290.0 V560.6" fill="none" stroke="#000" stroke-width="2.4" stroke-linejoin="miter" stroke-miterlimit="2" /><path d="M38.0,576.4 H39.7 V576.6 H41.4 V576.7 H43.1 V576.7 H44.8 V576.7 H46.5 V577.7 H48.2 V578.0 H49.9 V577.9 H51.6 V578.0 H53.3 V577.8 H55.0 V578.6 H56.7 V577.8 H58.4 V577.5 H60.1 V577.1 H61.8 V575.8 H63.5 V572.7 H65.2 V568.8 H66.9 V564.9 H68.6 V561.0 H70.3 V554.8 H72.0 V546.7 H73.7 V528.6 H75.4 V512.3 H77.1 V505.7 H78.8 V498.0 H80.5 V469.9 H82.2 V460.8 H83.9 V453.4 H85.6 V448.8 H87.3 V452.5 H89.0 V477.5 H90.7 V505.7 H92.4 V515.2 H94.1 V522.8 H95.8 V534.0 H97.5 V555.1 H99.2 V565.8 H100.9 V569.9 H102.6 V573.9 H104.3 V575.8 H106.1 V578.0 H107.8 V579.9 H109.5 V581.1 H111.2 V583.6 H112.9 V584.5 H114.6 V585.2 H116.3 V585.2 H118.0 V585.1 H119.7 V585.2 H121.4 V584.9 H123.1 V585.4 H124.8 V585.0 H126.5 V585.7 H128.2 V585.3 H129.9 V585.3 H131.6 V585.8 H133.3 V585.8 H135.0 V586.9 H136.7 V587.1 H138.4 V587.0 H140.1 V587.1 H141.8 V587.4 H143.5 V588.0 H145.2 V587.7 H146.9 V588.0 H148.6 V587.8 H150.3 V587.8 H152.0 V588.6 H153.7 V588.6 H155.4 V588.7 H157.1 V589.3 H158.8 V589.2 H160.5 V588.8 H162.2 V589.5 H163.9 V589.8 H165.6 V590.1 H167.3 V589.8 H169.0 V590.9 H170.7 V590.7 H172.5 V590.7 H174.2 V590.3 H175.9 V591.1 H177.6 V591.3 H179.3 V591.3 H181.0 V591.9 H182.7 V591.9 H184.4 V591.7 H186.1 V591.6 H187.8 V592.3 H189.5 V592.3 H191.2 V592.4 H192.9 V592.4 H194.6 V593.5 H196.3 V593.0 H198.0 V593.2 H199.7 V594.3 H201.4 V594.5 H203.1 V594.7 H204.8 V594.4 H206.5 V594.1 H208.2 V593.9 H209.9 V594.5 H211.6 V594.5 H213.3 V594.9 H215.0 V595.8 H216.7 V595.5 H218.4 V596.3 H220.1 V596.2 H221.8 V596.5 H223.5 V596.1 H225.2 V596.0 H226.9 V595.7 H228.6 V596.7 H230.3 V597.4 H232.0 V597.7 H233.7 V597.3 H235.4 V597.3 H237.1 V598.3 H238.9 V598.1 H240.6 V598.6 H242.3 V598.6 H244.0 V598.0 H245.7 V597.9 H247.4 V598.5 H249.1 V598.9 H250.8 V598.8 H252.5 V598.7 H254.2 V599.9 H255.9 V599.5 H257.6 V600.0 H259.3 V600.6 H261.0 V601.0 H262.7 V600.7 H264.4 V600.3 H266.1 V601.3 H267.8 V601.2 H269.5 V601.0 H271.2 V601.0 H272.9 V601.3 H274.6 V602.2 H276.3 V601.6 H278.0 V602.0" fill="none" stroke="#000" stroke-width="2.4" stroke-linejoin="miter" stroke-miterlimit="2" />
</svg>
</body></html>
